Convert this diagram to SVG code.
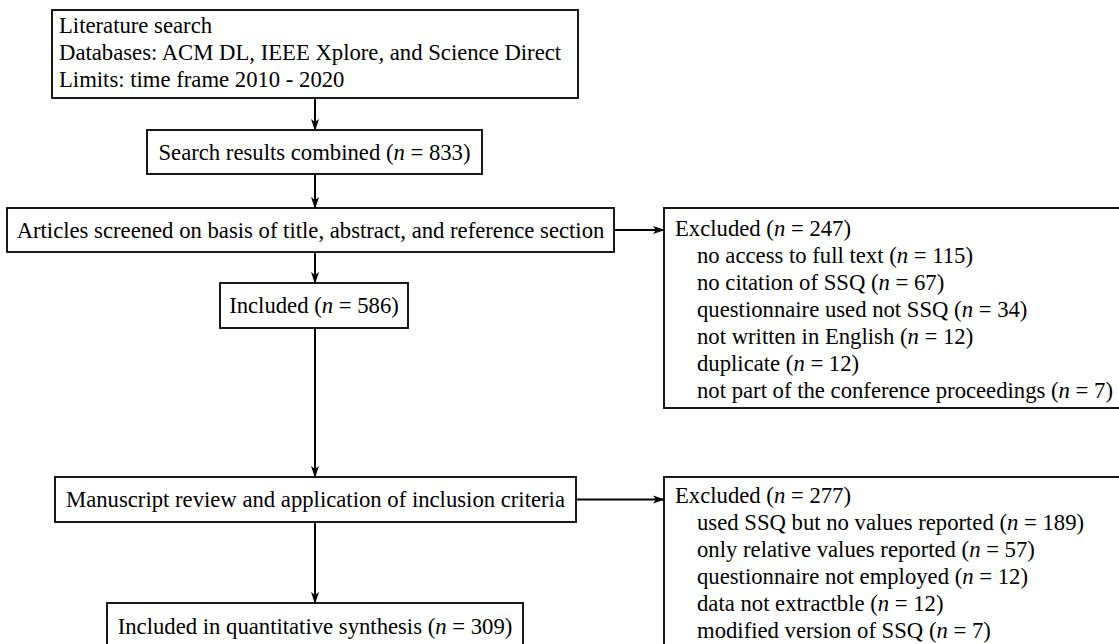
<svg xmlns="http://www.w3.org/2000/svg" width="1119" height="644" viewBox="0 0 1119 644">
<defs>
<marker id="ah" markerWidth="12" markerHeight="12" refX="11" refY="6" orient="auto" markerUnits="userSpaceOnUse">
<path d="M0,2 L12,6 L0,10 L3,6 Z" fill="#000"/>
</marker>
<style>
text{font-family:"Liberation Serif","Times New Roman",serif;font-size:22.7px;fill:#000}
.c{text-anchor:middle}
.i{font-style:italic}
rect{fill:#fff;stroke:#000;stroke-width:1.8}
.e line{stroke:#000;stroke-width:2}
</style>
</defs>
<rect x="0" y="0" width="1119" height="644" style="fill:#fff;stroke:none"/>
<g id="n1"><rect x="52" y="10" width="526" height="88"/>
<text x="59" y="33">Literature search</text>
<text x="59" y="60">Databases: ACM DL, IEEE Xplore, and Science Direct</text>
<text x="59" y="87">Limits: time frame 2010 - 2020</text></g>
<g id="n2"><rect x="147" y="130" width="335" height="44"/>
<text class="c" x="314.5" y="160">Search results combined (<tspan class="i">n</tspan> = 833)</text></g>
<g id="n3"><rect x="7" y="208" width="607" height="44"/>
<text class="c" x="310.5" y="238">Articles screened on basis of title, abstract, and reference section</text></g>
<g id="n4"><rect x="664" y="208" width="460" height="200"/>
<text x="675" y="236">Excluded (<tspan class="i">n</tspan> = 247)</text>
<text x="697" y="263">no access to full text (<tspan class="i">n</tspan> = 115)</text>
<text x="697" y="290">no citation of SSQ (<tspan class="i">n</tspan> = 67)</text>
<text x="697" y="317">questionnaire used not SSQ (<tspan class="i">n</tspan> = 34)</text>
<text x="697" y="344">not written in English (<tspan class="i">n</tspan> = 12)</text>
<text x="697" y="371">duplicate (<tspan class="i">n</tspan> = 12)</text>
<text x="697" y="398">not part of the conference proceedings (<tspan class="i">n</tspan> = 7)</text></g>
<g id="n5"><rect x="220" y="283" width="188" height="45"/>
<text class="c" x="314" y="313">Included (<tspan class="i">n</tspan> = 586)</text></g>
<g id="n6"><rect x="55" y="477" width="521" height="45"/>
<text class="c" x="315.5" y="507">Manuscript review and application of inclusion criteria</text></g>
<g id="n7"><rect x="664" y="477" width="460" height="180"/>
<text x="675" y="503">Excluded (<tspan class="i">n</tspan> = 277)</text>
<text x="697" y="530">used SSQ but no values reported (<tspan class="i">n</tspan> = 189)</text>
<text x="697" y="557">only relative values reported (<tspan class="i">n</tspan> = 57)</text>
<text x="697" y="584">questionnaire not employed (<tspan class="i">n</tspan> = 12)</text>
<text x="697" y="611">data not extractble (<tspan class="i">n</tspan> = 12)</text>
<text x="697" y="638">modified version of SSQ (<tspan class="i">n</tspan> = 7)</text></g>
<g id="n8"><rect x="107" y="603" width="416" height="45"/>
<text class="c" x="315" y="634">Included in quantitative synthesis (<tspan class="i">n</tspan> = 309)</text></g>
<g id="edges" class="e">
<line x1="315" y1="98" x2="315" y2="130" marker-end="url(#ah)"/>
<line x1="315" y1="174" x2="315" y2="208" marker-end="url(#ah)"/>
<line x1="315" y1="252" x2="315" y2="283" marker-end="url(#ah)"/>
<line x1="614" y1="230" x2="664" y2="230" marker-end="url(#ah)"/>
<line x1="315" y1="328" x2="315" y2="477" marker-end="url(#ah)"/>
<line x1="576" y1="499.5" x2="664" y2="499.5" marker-end="url(#ah)"/>
<line x1="315" y1="522" x2="315" y2="603" marker-end="url(#ah)"/>
</g>
</svg>
